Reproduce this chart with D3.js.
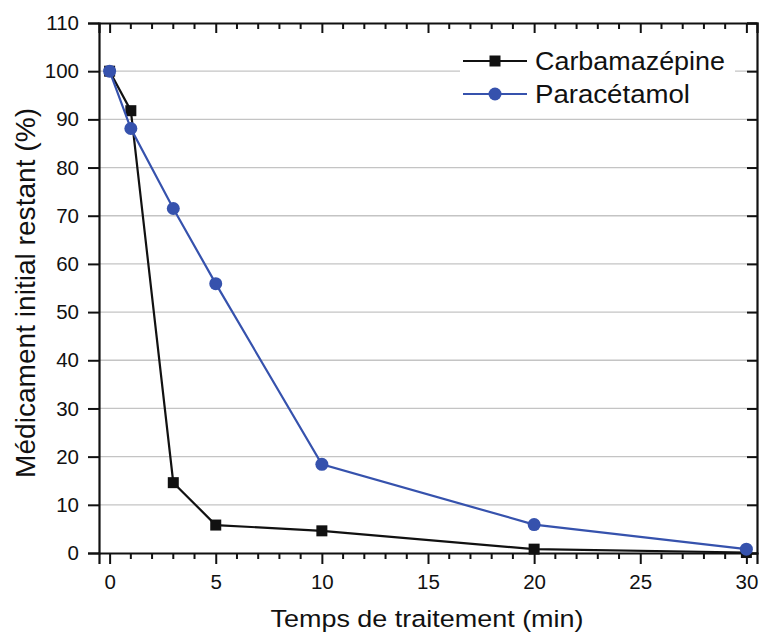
<!DOCTYPE html>
<html><head><meta charset="utf-8">
<script src="https://cdn.jsdelivr.net/npm/d3@7"></script>
<style>body{margin:0;background:#fff}svg{display:block}text{font-family:Arial,"Liberation Sans",sans-serif;fill:#111}</style>
</head><body>
<svg id="c" width="760" height="635"></svg>
<script>
const times = [0, 1, 3, 5, 10, 20, 30];
const carbamazepine = [100, 91.8, 14.6, 5.8, 4.6, 0.8, 0.1];
const paracetamol = [100, 88.1, 71.5, 55.9, 18.4, 5.9, 0.8];
const seriesNames = ["Carbamazépine", "Paracétamol"];
const xTicks = [0, 5, 10, 15, 20, 25, 30];
const yTicks = [0, 10, 20, 30, 40, 50, 60, 70, 80, 90, 100, 110];
const xTitle = "Temps de traitement (min)";
const yTitle = "Médicament initial restant (%)";

const svg = d3.select("#c");
const L = 99, R = 757, T = 23, B = 553;
const x = d3.scaleLinear().domain([-0.5, 30.5]).range([L, R]);
const y = d3.scaleLinear().domain([0, 110]).range([B, T]);

// grid
svg.append("g").selectAll("line").data(yTicks.filter(v => v > 0 && v < 110)).join("line")
  .attr("x1", L).attr("x2", R).attr("y1", d => y(d)).attr("y2", d => y(d))
  .attr("stroke", "#c4c4c4").attr("stroke-width", 1.3);

// legend background
const leg = svg.append("g");
leg.append("rect").attr("x", 460).attr("y", 49).attr("width", 275).attr("height", 62).attr("fill", "#fff");

const minor = d3.range(0, 31, 1);
// bottom axis
const gB = svg.append("g").attr("transform", `translate(0,${B})`)
  .call(d3.axisBottom(x).tickValues(xTicks).tickSize(11).tickPadding(10).tickFormat(d3.format("d")));
gB.append("g").selectAll("line").data(minor.filter(v => v % 5)).join("line")
  .attr("x1", d => x(d)).attr("x2", d => x(d)).attr("y1", 0).attr("y2", 6).attr("stroke", "#111").attr("stroke-width", 2);
// top axis (inward)
const gT = svg.append("g").attr("transform", `translate(0,${T})`)
  .call(d3.axisTop(x).tickValues(xTicks).tickSize(-10).tickFormat(""));
gT.append("g").selectAll("line").data(minor.filter(v => v % 5)).join("line")
  .attr("x1", d => x(d)).attr("x2", d => x(d)).attr("y1", 0).attr("y2", 6).attr("stroke", "#111").attr("stroke-width", 2);
// left axis
const gL = svg.append("g").attr("transform", `translate(${L},0)`)
  .call(d3.axisLeft(y).tickValues(yTicks).tickSize(11).tickPadding(9).tickFormat(d3.format("d")));
// right axis (inward)
const gR = svg.append("g").attr("transform", `translate(${R},0)`)
  .call(d3.axisRight(y).tickValues(yTicks).tickSize(-10).tickFormat(""));

[gB, gT, gL, gR].forEach(g => {
  g.select(".domain").attr("stroke", "#111").attr("stroke-width", 2.2);
  g.selectAll(".tick line").attr("stroke", "#111").attr("stroke-width", 2);
  g.selectAll(".tick text").attr("font-size", 20.5).attr("fill", "#111");
});

const line = d3.line().x((d, i) => x(times[i])).y(d => y(d));
const colors = ["#111111", "#3652ad"];
const data = [carbamazepine, paracetamol];

function marker(g, i, cx, cy) {
  if (i === 0) g.append("rect").attr("x", cx - 5.5).attr("y", cy - 5.5).attr("width", 11).attr("height", 11).attr("fill", colors[0]);
  else g.append("circle").attr("cx", cx).attr("cy", cy).attr("r", 6.5).attr("fill", colors[1]);
}

data.forEach((vals, i) => {
  const g = svg.append("g");
  g.append("path").datum(vals).attr("d", line).attr("fill", "none").attr("stroke", colors[i]).attr("stroke-width", 2.2);
  vals.forEach((v, j) => marker(g, i, x(times[j]), y(v)));
});

// legend
const legW = [190, 155];
seriesNames.forEach((n, i) => {
  const cy = 61 + i * 33;
  leg.append("line").attr("x1", 463).attr("x2", 527).attr("y1", cy).attr("y2", cy).attr("stroke", colors[i]).attr("stroke-width", 2.2);
  marker(leg, i, 495, cy);
  leg.append("text").attr("x", 535).attr("y", cy).attr("dy", "0.36em").attr("font-size", 25)
    .attr("textLength", legW[i]).attr("lengthAdjust", "spacingAndGlyphs").text(n);
});

// titles
svg.append("text").attr("x", 427).attr("y", 627).attr("text-anchor", "middle").attr("font-size", 24.5)
  .attr("textLength", 313).attr("lengthAdjust", "spacingAndGlyphs").text(xTitle);
svg.append("text").attr("transform", "translate(35,293) rotate(-90)").attr("text-anchor", "middle").attr("font-size", 28)
  .attr("textLength", 370).attr("lengthAdjust", "spacingAndGlyphs").text(yTitle);
</script>
</body></html>
